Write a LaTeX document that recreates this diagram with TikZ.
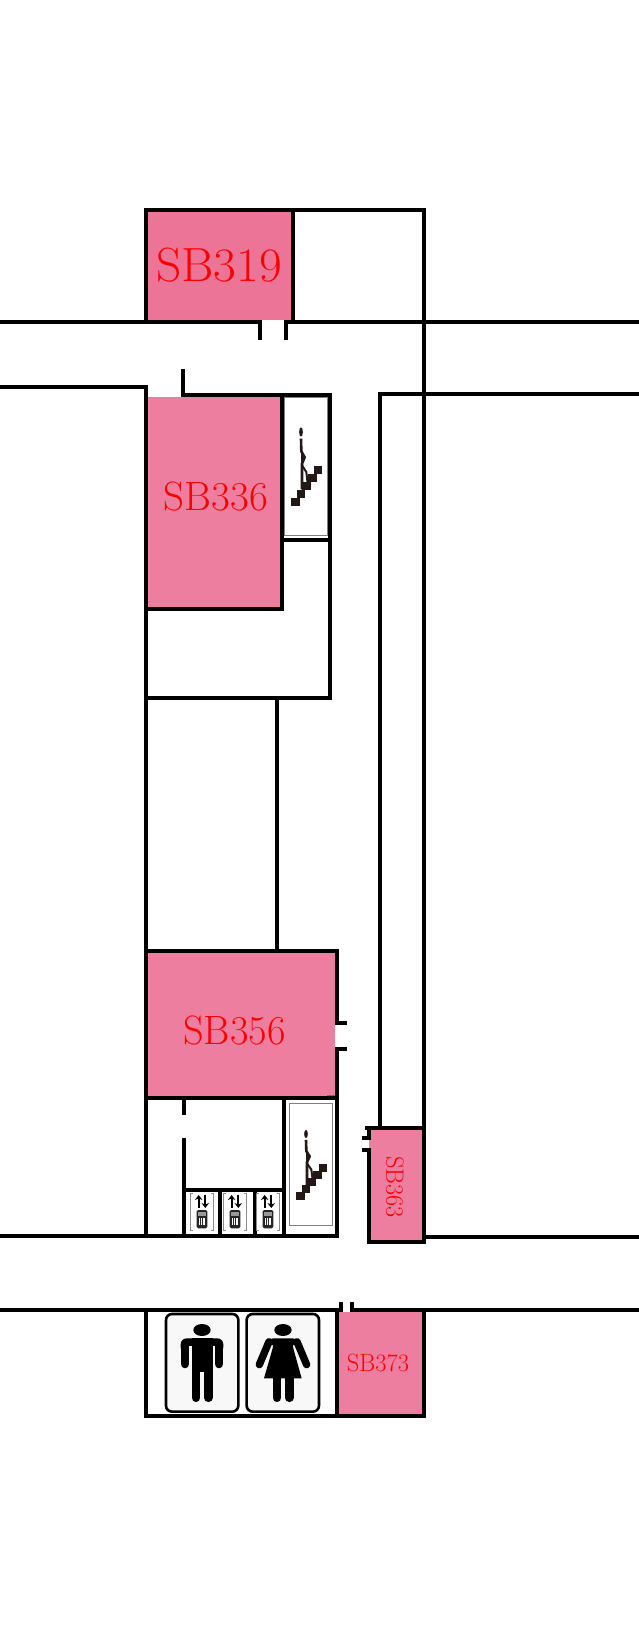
\documentclass[tikz,border=0pt]{standalone}
\usepackage{fontspec}
\usetikzlibrary{arrows.meta}
\definecolor{roomA}{HTML}{EC7497}
\definecolor{roomB}{HTML}{EE7E9F}
\definecolor{signbg}{HTML}{F8F8F8}
\definecolor{stepc}{HTML}{231815}
\tikzset{
  wall/.style={draw=black,line width=3.6pt,line cap=rect,line join=miter},
  thinwall/.style={draw=black,line width=3.2pt,line cap=rect},
  tick/.style={draw=black,line width=3.2pt,line cap=butt},
  roomlabel/.style={text=red,inner sep=0pt,outer sep=0pt,anchor=center},
  stairfig/.pic={
    \begin{scope}[x=0.3333pt,y=-0.3333pt]
      \fill[stepc] (0,0) ellipse[x radius=5.5,y radius=14];
      \draw[stepc,line width=2.6pt,line join=round] (0,20) -- (1,58) -- (11,76) -- (3,95) -- (3,172);
      \draw[stepc,line width=2pt,line join=round] (3,60) -- (3,100) -- (16,120) -- (20,155);
      \foreach \dx/\dy in {-17/210,0/186,17/162,34/138,51/114}
        \fill[stepc] (\dx-13,\dy-13) rectangle (\dx+13,\dy+13);
    \end{scope}
  },
  liftfig/.pic={
    \begin{scope}[x=0.3333pt,y=-0.3333pt]
      \draw[black!45,line width=.5pt] (-28,-48) -- (-35,-48) -- (-35,63) -- (-28,63);
      \draw[black!45,line width=.5pt] (28,-48) -- (35,-48) -- (35,63) -- (28,63);
      \draw[black,line width=2pt,-{Stealth[length=5pt,width=7.5pt]}] (-10,-3) -- (-10,-42);
      \draw[black,line width=2pt,-{Stealth[length=5pt,width=7.5pt]}] (10,-42) -- (10,-3);
      \fill[black!85,rounded corners=1.5pt] (-16,3) rectangle (16,58);
      \fill[black!40] (-11,10) rectangle (11,20);
      \foreach \bx in {-10,-3,4}
        \fill[white] (\bx,26) rectangle (\bx+4,47);
    \end{scope}
  }
}
\begin{document}
\begin{tikzpicture}[x=1pt,y=-1pt]
\useasboundingbox (0,0) rectangle (638,1626);
\fill[white] (0,0) rectangle (638,1626);

% rooms
\fill[roomA] (146,210) rectangle (293,320);
\fill[roomB] (148,397) rectangle (282,609);
\fill[roomB] (146,951) rectangle (335,1098);
\fill[roomB] (369,1128) rectangle (424,1242);
\fill[roomB] (337,1312) rectangle (424,1416);
\fill[green!70!black] (327,1095) rectangle (335,1097);

% stair frames
\draw[black!50,line width=.8pt,fill=white] (284,397) rectangle (327,535);
\draw[black!50,line width=.8pt,fill=white] (289,1103) rectangle (332,1225);

% SB319 and top block
\draw[wall] (146,322) -- (146,210) -- (424,210);
\draw[wall] (293,210) -- (293,322);
\draw[wall] (424,210) -- (424,1128);
% corridor top line
\draw[wall] (0,322) -- (260,322);
\draw[wall] (286,322) -- (638,322);
\draw[tick] (260,320) -- (260,340);
\draw[tick] (286,320) -- (286,340);
% left wall
\draw[wall] (0,387) -- (146,387) -- (146,1236);
\draw[wall] (183,371) -- (183,395) -- (330,395) -- (330,698) -- (146,698);
% SB336
\draw[wall] (282,395) -- (282,609) -- (146,609);
\draw[wall] (282,540) -- (330,540);
% right corridor
\draw[wall] (380,1128) -- (380,394) -- (638,394);
% middle
\draw[thinwall] (277,698) -- (277,951);
% SB356
\draw[wall] (146,951) -- (337,951) -- (337,1023);
\draw[wall] (337,1049) -- (337,1236);
\draw[tick] (335,1023) -- (347,1023);
\draw[tick] (335,1049) -- (347,1049);
\draw[wall] (146,1098) -- (337,1098);
% lower core
\draw[thinwall] (284,1098) -- (284,1236);
\draw[thinwall] (184,1098) -- (184,1113);
\draw[thinwall] (184,1140) -- (184,1236);
\draw[thinwall] (184,1190) -- (284,1190);
\draw[thinwall] (220,1190) -- (220,1236);
\draw[thinwall] (255,1190) -- (255,1236);
\draw[wall] (0,1236) -- (337,1236);
% SB363
\draw[wall] (367,1128) -- (424,1128) -- (424,1242) -- (369,1242) -- (369,1150);
\draw[wall] (369,1138) -- (369,1128);
\draw[tick] (362,1138) -- (371,1138);
\draw[tick] (362,1150) -- (371,1150);
\draw[wall] (424,1237) -- (638,1237);
% bottom corridor line and washrooms
\draw[wall] (0,1310) -- (341,1310);
\draw[wall] (352,1310) -- (638,1310);
\draw[tick] (341,1302) -- (341,1312);
\draw[tick] (352,1302) -- (352,1312);
\draw[wall] (146,1310) -- (146,1416) -- (424,1416) -- (424,1310);
\draw[wall] (337,1310) -- (337,1416);

% stair and lift icons
\pic at (301,432) {stairfig};
\pic[yscale=.886] at (306,1134) {stairfig};
\pic at (202,1209) {liftfig};
\pic at (235,1209) {liftfig};
\pic at (268,1209) {liftfig};

% washroom signs
\begin{scope}[shift={(130pt,-1290pt)},x=0.3333pt,y=-0.3333pt]
  \draw[black,line width=2.6pt,fill=signbg,rounded corners=6pt] (108,72) rectangle (325,365);
  \draw[black,line width=2.6pt,fill=signbg,rounded corners=6pt] (350,72) rectangle (567,365);
  % man
  \fill[black] (216,120) ellipse[x radius=26,y radius=18];
  \fill[black,rounded corners=6pt] (152,190) -- (152,145) -- (280,145) -- (280,190) -- cycle;
  \fill[signbg] (178,168) rectangle (185,240);
  \fill[signbg] (248,168) rectangle (254,240);
  \fill[black] (185,145) rectangle (248,245);
  \draw[black,line width=8.6pt,line cap=round] (165,170) -- (165,222);
  \draw[black,line width=8.6pt,line cap=round] (267,170) -- (267,222);
  \draw[black,line width=8.8pt,line cap=round] (198,235) -- (198,323);
  \draw[black,line width=8.8pt,line cap=round] (235,235) -- (235,323);
  % woman
  \fill[black] (459,120) ellipse[x radius=26,y radius=18];
  \fill[black,rounded corners=4pt] (408,165) -- (418,145) -- (500,145) -- (510,165) -- cycle;
  \fill[black] (432,150) -- (486,150) -- (490,175) -- (515,265) -- (402,265) -- (428,175) -- cycle;
  \draw[black,line width=7.4pt,line cap=round] (417,155) -- (388,224);
  \draw[black,line width=7.4pt,line cap=round] (501,155) -- (530,224);
  \draw[black,line width=8.8pt,line cap=round] (441,262) -- (441,323);
  \draw[black,line width=8.8pt,line cap=round] (478,262) -- (478,323);
\end{scope}

% labels
\node[roomlabel,xscale=1.03] (sb319) at (219,265) {\fontsize{48}{48}\selectfont SB319};
\node[roomlabel,xscale=1.0] (sb336) at (216,496) {\fontsize{41}{41}\selectfont SB336};
\node[roomlabel,xscale=.98] (sb356) at (234.5,1030) {\fontsize{41}{41}\selectfont SB356};
\node[roomlabel,rotate=-90,xscale=.97] (sb363) at (395,1187) {\fontsize{25}{25}\selectfont SB363};
\node[roomlabel,xscale=.98] (sb373) at (378,1363) {\fontsize{25}{25}\selectfont SB373};
\end{tikzpicture}
\end{document}
